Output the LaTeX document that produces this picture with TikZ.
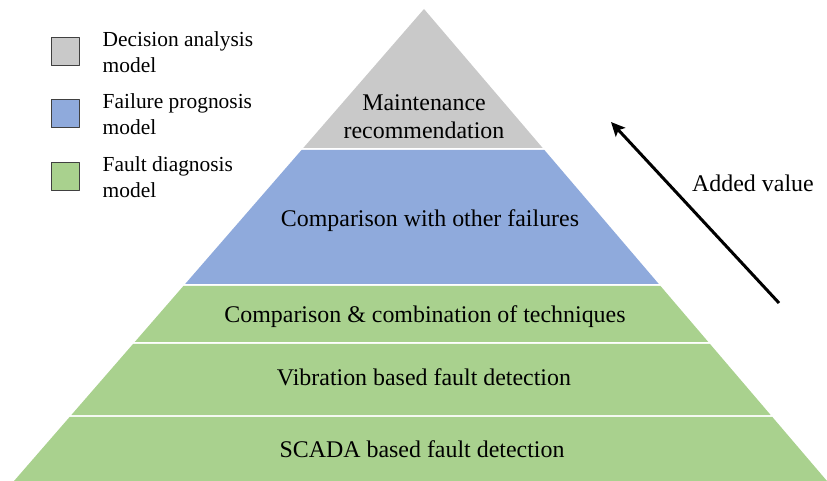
\documentclass[tikz,border=0pt]{standalone}
\usepackage{fontspec}
\setmainfont{Liberation Serif}
\usetikzlibrary{arrows.meta,calc,positioning}

\definecolor{decgray}{HTML}{C9C9C9}
\definecolor{progblue}{HTML}{8FAADC}
\definecolor{diaggreen}{HTML}{A9D18E}

\tikzset{
  legbox/.style={draw=black!75, line width=1bp, minimum size=28bp, inner sep=0pt},
  legtext/.style={inner sep=0pt, align=left, font=\fontsize{21.5}{26}\selectfont},
  layertext/.style={inner sep=0pt, anchor=base, font=\fontsize{24}{28}\selectfont}
}

\begin{document}
\begin{tikzpicture}[x=1bp, y=-1bp, >=Stealth, line join=round]

  \useasboundingbox (0,0) rectangle (827,481);

  % pyramid corners
  \coordinate (apex) at (424,9);
  \coordinate (bl) at (14,481);
  \coordinate (br) at (827,481);
  \def\ph{472} % height of the pyramid

  % layers: top y / bottom y / colour
  \foreach \yt/\yb/\col in {9/148/decgray, 150/284/progblue, 286/342/diaggreen,
                            344/415/diaggreen, 417/481/diaggreen}{
    \pgfmathsetmacro{\ta}{(\yt-9)/\ph}
    \pgfmathsetmacro{\tb}{(\yb-9)/\ph}
    \fill[\col] ($(apex)!\ta!(bl)$) -- ($(apex)!\tb!(bl)$)
      -- ($(apex)!\tb!(br)$) -- ($(apex)!\ta!(br)$) -- cycle;
  }

  % layer texts
  \node[layertext, anchor=center, align=center] (maint) at (424,117) {Maintenance\\recommendation};
  \node[layertext] (compfail) at (430,227) {Comparison with other failures};
  \node[layertext] (comptech) at (425,323) {Comparison \& combination of techniques};
  \node[layertext] (vibration) at (424,385) {Vibration based fault detection};
  \node[layertext] (scada) at (422,457) {SCADA based fault detection};

  % added value arrow
  \coordinate (valtail) at (779,303);
  \coordinate (valtip) at (611,122);
  \draw[-{Stealth[length=14bp, width=13bp, inset=3bp]}, line width=3bp] (valtail) -- (valtip);
  \node[layertext, anchor=base west] (addval) at (692,192) {Added value};

  % legend
  \node[legbox, fill=decgray] (boxdec) at (65,52) {};
  \node[legbox, fill=progblue] (boxprog) at (65,114) {};
  \node[legbox, fill=diaggreen] (boxdiag) at (65,177) {};
  \node[legtext, right=23bp of boxdec] (txtdec) {Decision analysis\\model};
  \node[legtext, right=23bp of boxprog] (txtprog) {Failure prognosis\\model};
  \node[legtext, right=23bp of boxdiag] (txtdiag) {Fault diagnosis\\model};

\end{tikzpicture}
\end{document}
